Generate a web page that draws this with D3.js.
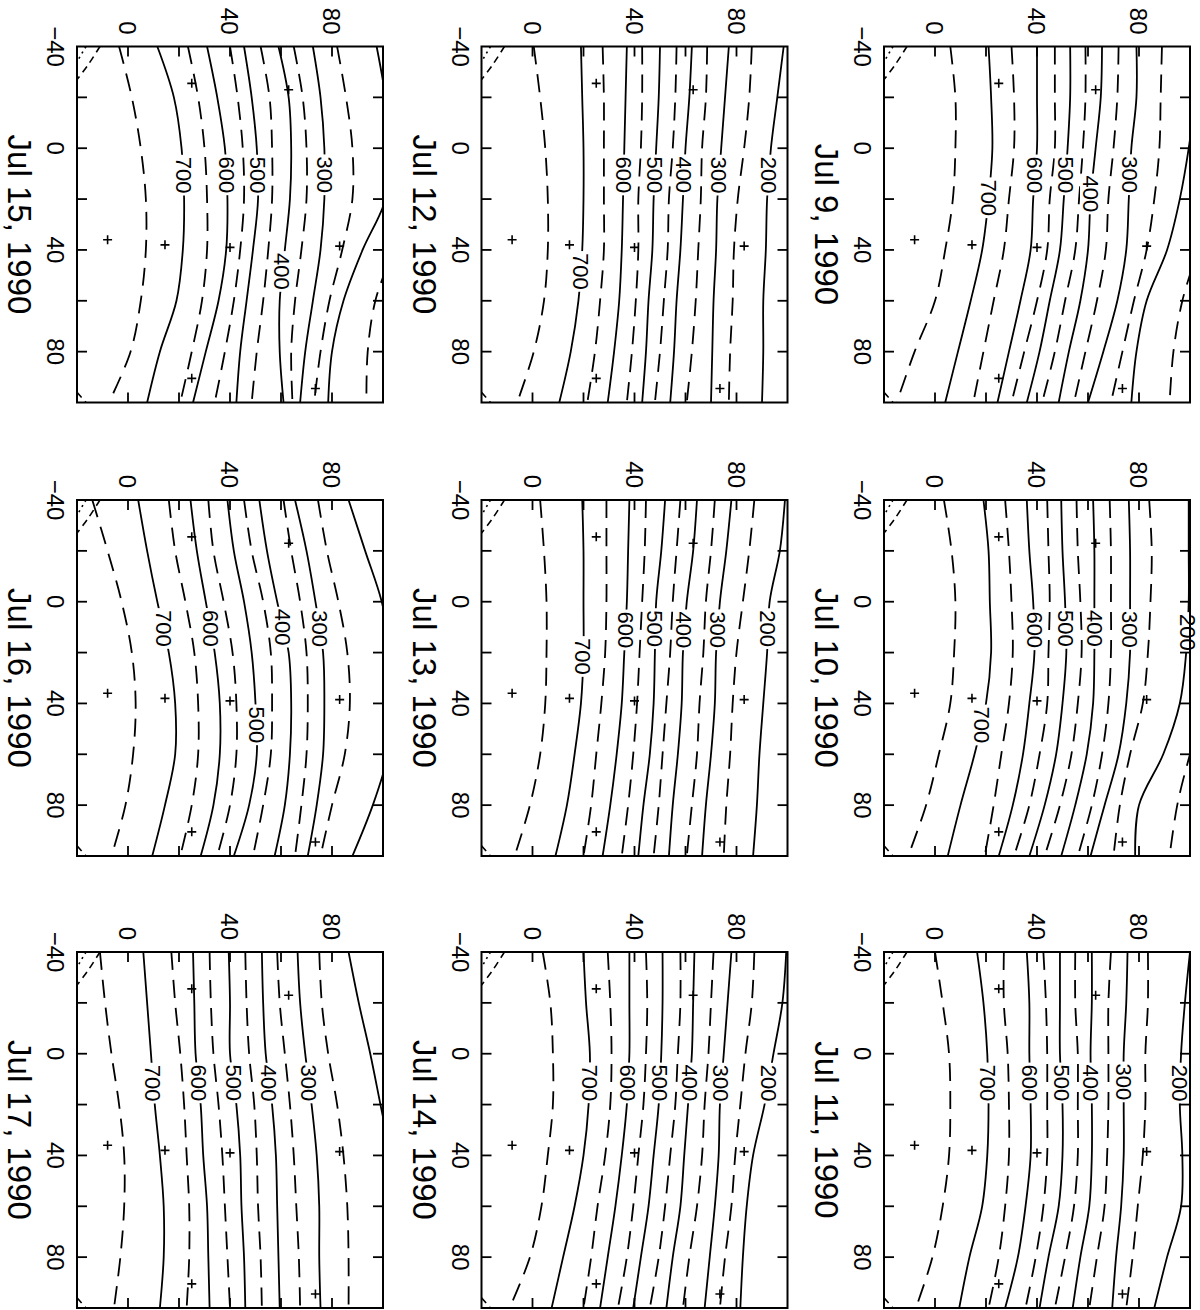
<!DOCTYPE html>
<html><head><meta charset="utf-8">
<script src="https://cdn.jsdelivr.net/npm/d3@7"></script>
<style>
body{margin:0;background:#fff}
svg{display:block;background:#fff}
text{font-family:"Liberation Sans",Arial,Helvetica,sans-serif;fill:#000}
</style>
</head><body>
<svg id="chart" width="1200" height="1310"></svg>
<script>
// ---------- data ----------
const xGrid = [-40, -20, 0, 20, 40, 60, 80, 100];
const levels = [750, 700, 650, 600, 550, 500, 450, 400, 350, 300, 250, 200, 150];
const xTickLabels = [-40, 0, 40, 80];
const yTickLabels = [0, 40, 80];
const xTicks = [-20, 0, 20, 40, 60, 80];
const yTicks = [0, 20, 40, 60, 80];
const dates = ["Jul 9, 1990","Jul 10, 1990","Jul 11, 1990","Jul 12, 1990","Jul 13, 1990",
               "Jul 14, 1990","Jul 15, 1990","Jul 16, 1990","Jul 17, 1990"];
const stationX = [-25.5, -23, 36, 38, 39, 38.5, 90.5, 94.5];
const stationY = [25, 63, -8, 14.5, 40, 83, 25, 73.5];
const cornerDash = [[-40,-11],[-33,-15.5],[-27,-20]];
const cornerDot = [[-40,-16.5],[-34,-20]];
const cornerLow = [[96,-20],[100,-16.5]];

const jul09 = [
  [6, 8, 8, 7, 4, 0, -8, -15],
  [21, 22, 22.5, 21, 18.5, 14, 9, 4],
  [30, 31, 31, 29, 27, 23, 19, 15],
  [40, 40, 40, 38.5, 37.5, 33.5, 29, 24.5],
  [47, 47, 47, 45, 44, 40, 35, 30],
  [53, 53, 52, 50.5, 49, 45, 41, 36],
  [59, 59, 58, 56.5, 55, 51, 47, 42],
  [65.5, 65, 63, 61, 60, 57, 52.5, 48.5],
  [72, 71.5, 70, 68, 67, 63.5, 59, 54.5],
  [79, 79, 77, 76, 75, 71.5, 66, 60],
  [89, 88.5, 88, 86, 83, 78, 73.5, 69],
  [104, 102, 99.5, 96, 91, 83, 79, 77],
  [114, 112, 110, 108, 103, 97, 93.5, 92]
];
const jul10 = [
  [3.5, 6.5, 8, 7.5, 6, 1.5, -3.5, -10.5],
  [19, 21, 21.5, 22, 20, 15.5, 10, 5],
  [27.5, 29, 30, 30.5, 29, 26, 23, 19.5],
  [36, 37, 38.5, 39, 37, 34.5, 30.5, 25],
  [44, 44.5, 45, 44.5, 44, 41, 37, 31],
  [49.5, 50, 51, 51.5, 50, 47.5, 43, 37],
  [55.5, 56, 57, 57.5, 56, 53.5, 49, 43],
  [62, 62.5, 62.5, 62.5, 62, 59.5, 55, 49.5],
  [68.5, 69, 69, 69, 68, 65.5, 61.5, 56],
  [76, 76.5, 76.5, 76.5, 75, 72, 66.5, 61],
  [84, 85, 84.5, 83.5, 81.5, 76.5, 72.5, 70],
  [99.5, 99.5, 99.5, 98.5, 96, 89.5, 80, 78.5],
  [115, 113, 112, 110, 106, 100, 95, 92]
];
const jul11 = [
  [0, 3, 5.5, 6, 5.5, 3, -1, -7.5],
  [16.5, 19, 20.5, 21, 20.5, 18.5, 13.5, 9.5],
  [27, 27, 28.5, 29, 29, 27.5, 25, 21],
  [36, 37, 37, 37.5, 37.5, 35.5, 32.5, 27.5],
  [42.5, 43.5, 44, 44, 44, 42.5, 39.5, 35.5],
  [49, 49, 49, 50, 50, 48.5, 44.5, 41],
  [55, 55, 56, 56, 56, 54.5, 51, 47],
  [61.5, 61.5, 61, 61.5, 61.5, 60.5, 57, 54],
  [69, 68, 68, 68, 67.5, 66.5, 63.5, 60.5],
  [75.5, 75, 74, 74, 74, 73, 71, 69.5],
  [83.5, 83.5, 82.5, 82.5, 81.5, 79.5, 77.5, 75],
  [100, 98, 96.5, 96, 97, 96.5, 91, 86],
  null
];
const jul12 = [
  [0.5, 3, 5, 6, 6, 4.5, 0.5, -6],
  [19, 19.5, 20, 20, 19.5, 18, 15, 10.5],
  [27.5, 28, 28, 28, 28, 26.5, 24.5, 21.5],
  [37, 36.5, 36, 35.5, 35, 34, 32, 29.5],
  [43, 43, 42.5, 41.5, 41.5, 40.5, 39, 37],
  [50, 49.5, 48.5, 47.5, 47, 45.5, 44.5, 43],
  [56.5, 56, 55, 53.5, 53, 51.5, 50, 48],
  [62.5, 61.5, 60, 59, 58, 56.5, 55.5, 54],
  [68.5, 68, 66.5, 66, 65, 64, 62.5, 60.5],
  [77, 75.5, 74, 72.5, 72, 71, 70.5, 70],
  [86, 85, 83, 80.5, 79, 78.5, 77.5, 77],
  [98.5, 96, 93.5, 92, 91.5, 90.5, 90.5, 90],
  null
];
const jul13 = [
  [3, 4.5, 5.5, 5.5, 5, 3, -1, -7],
  [19.5, 20, 20, 20, 19, 16.5, 13.5, 9],
  [29, 29, 29, 28.5, 27, 25, 23, 20],
  [38, 37.5, 37, 36, 35, 33, 30.5, 27.5],
  [44.5, 44, 43, 42, 41, 39.5, 37.5, 35],
  [52, 50.5, 48.5, 48, 47.5, 46, 43.5, 41.5],
  [58, 56.5, 55, 54, 52.5, 51, 49.5, 47.5],
  [64.5, 63, 60.5, 59, 58.5, 57, 55, 53.5],
  [71.5, 70, 68, 67, 65.5, 64.5, 62.5, 60.5],
  [78, 76, 73.5, 72, 71.5, 70, 68, 66.5],
  [87, 85, 82.5, 80, 78.5, 77.5, 76, 75],
  [99, 97, 93, 92, 90.5, 89, 88, 86.5],
  null
];
const jul14 = [
  [4, 7, 8, 8, 6, 3.5, -1, -9],
  [20, 21, 22.5, 22, 20, 16.5, 12, 7.5],
  [29.5, 30.5, 31, 30.5, 28.5, 25.5, 23, 20],
  [38, 38, 38, 37, 35, 32.5, 29.5, 26.5],
  [44.5, 45, 44.5, 43.5, 41.5, 39.5, 37, 33.5],
  [51, 51, 50.5, 49.5, 47.5, 45.5, 42.5, 39.5],
  [58, 58, 57, 56, 54, 52, 49.5, 46],
  [63.5, 63, 62.5, 61, 59.5, 58, 55, 52.5],
  [71, 70, 69, 67.5, 66.5, 64.5, 61.5, 59],
  [78, 76.5, 75, 73.5, 73, 71.5, 69.5, 67.5],
  [87, 86, 83.5, 81.5, 79.5, 78, 75.5, 73.5],
  [99.5, 98, 94.5, 91, 86.5, 84, 82.5, 81.5],
  null
];
const jul15 = [
  [-3.5, 1.5, 5, 7, 7, 5, 1, -7.5],
  [11.5, 18, 21, 22, 21.5, 19, 12.5, 7.5],
  [23.5, 27.5, 30, 31, 31, 29, 25, 20.5],
  [31, 35, 38, 39, 38.5, 35.5, 30.5, 25.5],
  [40, 43, 45, 45.5, 44, 41.5, 38, 34],
  [45.5, 48.5, 50.5, 51, 49, 46.5, 44, 42.5],
  [52, 55.5, 56.5, 56.5, 55, 53, 50.5, 48.5],
  [59, 63, 64, 63.5, 61.5, 59.5, 59.5, 61],
  [65, 68.5, 70, 70, 68, 65.5, 64, 64.5],
  [72.5, 75.5, 77, 77, 75.5, 72.5, 69.5, 67.5],
  [82, 85.5, 88, 88, 84, 79, 75.5, 73],
  [97.5, 101, 103, 101, 92, 84.5, 80, 78.5],
  [116, 115, 114, 110, 104, 97, 94, 93.5]
];
const jul16 = [
  [-14, -8, -2.5, 1.5, 3, 2, -1, -6.5],
  [4, 7.5, 11.5, 16, 18.5, 18.5, 14.5, 9.5],
  [16, 18.5, 22.5, 26, 27.5, 27.5, 25, 20.5],
  [24.5, 27, 30.5, 34, 36, 36, 33.5, 28.5],
  [31.5, 33.5, 37.5, 41, 42.5, 42.5, 40, 35],
  [39, 41.5, 45.5, 48.5, 50, 50.5, 47.5, 41.5],
  [45.5, 48.5, 53, 56, 56.5, 56, 53, 49],
  [51.5, 54.5, 58.5, 63, 64, 63.5, 61.5, 57.5],
  [61, 64, 67.5, 70, 70.5, 70, 68, 65.5],
  [65.5, 70, 73.5, 76.5, 77, 76.5, 74, 70.5],
  [74.5, 78, 82.5, 86, 87, 85, 80, 75.5],
  [86.5, 93, 99.5, 103, 104, 102, 96, 88],
  null
];
const jul17 = [
  [-11, -9, -6.5, -3.5, -1.5, -1.5, -3, -5.5],
  [6, 7.5, 9, 10.5, 12.5, 14, 14, 12.5],
  [17, 18.5, 20.5, 22, 23, 24, 24, 23],
  [25.5, 26, 26.5, 28.5, 29.5, 31, 31.5, 32],
  [32, 32.5, 33.5, 35.5, 37, 38, 39, 40],
  [39.5, 40, 40, 42.5, 44, 44.5, 45.5, 46],
  [46, 46.5, 47.5, 49.5, 50.5, 51, 52, 52.5],
  [52.5, 53, 54, 56.5, 58, 58.5, 59, 59.5],
  [58.5, 59.5, 61.5, 63.5, 65, 66, 67, 67.5],
  [66.5, 67.5, 69.5, 72, 74, 75, 75, 75.5],
  [75, 76, 78.5, 82, 84.5, 86, 86.5, 86.5],
  [86.5, 90.5, 95, 99, 103, 106, 108, 108],
  null
];

const labels09 = [[700,19.5],[600,10.5],[500,10.5],[400,18],[300,10.5]];
const labels10 = [[700,48.5],[600,11],[500,10.5],[400,10.5],[300,11],[200,12]];
const labels11 = [[700,11.5],[600,11.5],[500,11.5],[400,11.5],[300,11],[200,11.5]];
const labels12 = [[700,48.5],[600,10.5],[500,10.5],[400,10.5],[300,10.5],[200,10.5]];
const labels13 = [[700,21.5],[600,11],[500,10.5],[400,11],[300,11],[200,10.5]];
const labels14 = [[700,11.5],[600,11.5],[500,11.5],[400,11.5],[300,11.5],[200,11.5]];
const labels15 = [[700,10.5],[600,10.5],[500,10.5],[400,48.5],[300,10.5]];
const labels16 = [[700,10.5],[600,10.5],[500,48.5],[400,10],[300,10.5]];
const labels17 = [[700,11.5],[600,11.5],[500,11.5],[400,11.5],[300,11.5]];

const panelLines = [jul09, jul10, jul11, jul12, jul13, jul14, jul15, jul16, jul17];
const panelLabels = [labels09, labels10, labels11, labels12, labels13, labels14, labels15, labels16, labels17];

// ---------- layout ----------
const slot = [[2,0],[2,1],[2,2],[1,0],[1,1],[1,2],[0,0],[0,1],[0,2]]; // [col,row]
const colL = [77, 481.5, 884], rowT = [46.5, 500, 952];
const W = 306, H = 356;

const svg = d3.select("#chart");
const defs = svg.append("defs");

dates.forEach((date, i) => {
  const [c, r] = slot[i];
  const L = colL[c], T = rowT[r];
  const sx = d3.scaleLinear().domain([-20, 100]).range([L, L + W]);
  const sy = d3.scaleLinear().domain([-40, 100]).range([T, T + H]);
  const g = svg.append("g");

  defs.append("clipPath").attr("id", "clip" + i)
    .append("rect").attr("x", L).attr("y", T).attr("width", W).attr("height", H);
  const plot = g.append("g").attr("clip-path", `url(#clip${i})`);

  const line = d3.line().x(d => sx(d[1])).y(d => sy(d[0])).curve(d3.curveCatmullRom);
  const paths = {};
  panelLines[i].forEach((vals, k) => {
    if (!vals) return;
    const lev = levels[k];
    const solid = lev % 100 === 0;
    const pts = xGrid.map((x, j) => [x, vals[j]]);
    const p = plot.append("path").attr("d", line(pts))
      .attr("fill", "none").attr("stroke", "#000").attr("stroke-width", 1.8)
      .attr("stroke-dasharray", solid ? null : "18,10");
    paths[lev] = p;
  });
  const cline = d3.line().x(d => sx(d[1])).y(d => sy(d[0])).curve(d3.curveCatmullRom);
  plot.append("path").attr("d", cline(cornerDash)).attr("fill","none").attr("stroke","#000")
    .attr("stroke-width",1.6).attr("stroke-dasharray","7,5");
  plot.append("path").attr("d", cline(cornerDot)).attr("fill","none").attr("stroke","#000")
    .attr("stroke-width",1.6).attr("stroke-dasharray","2,4");
  plot.append("path").attr("d", cline(cornerLow)).attr("fill","none").attr("stroke","#000")
    .attr("stroke-width",1.6).attr("stroke-dasharray","7,5");

  // station markers
  stationX.forEach((x, j) => {
    plot.append("path")
      .attr("transform", `translate(${sx(stationY[j])},${sy(x)})`)
      .attr("d", "M-4.5,0H4.5M0,-4.5V4.5")
      .attr("stroke", "#000").attr("stroke-width", 1.6);
  });

  // contour labels
  panelLabels[i].forEach(([lev, xl]) => {
    const p = paths[lev];
    if (!p) return;
    const node = p.node();
    const len = node.getTotalLength();
    const ty = sy(xl);
    let best = null, bd = Infinity;
    for (let s = 0; s <= len; s += 0.5) {
      const pt = node.getPointAtLength(s);
      const d = Math.abs(pt.y - ty);
      if (d < bd) { bd = d; best = pt; }
    }
    const lg = g.append("g").attr("transform", `translate(${best.x},${best.y}) rotate(90)`);
    const t = lg.append("text").attr("text-anchor", "middle").attr("dy", "0.36em")
      .attr("font-size", 22).text(lev);
    const bb = t.node().getBBox();
    lg.insert("rect", "text").attr("x", bb.x - 2).attr("y", bb.y + 2)
      .attr("width", bb.width + 4).attr("height", bb.height - 4).attr("fill", "#fff");
  });

  // ticks
  const tk = 10;
  xTicks.forEach(x => {
    g.append("line").attr("x1", L).attr("x2", L + tk).attr("y1", sy(x)).attr("y2", sy(x))
      .attr("stroke", "#000").attr("stroke-width", 1.8);
    g.append("line").attr("x1", L + W - tk).attr("x2", L + W).attr("y1", sy(x)).attr("y2", sy(x))
      .attr("stroke", "#000").attr("stroke-width", 1.8);
  });
  yTicks.forEach(v => {
    g.append("line").attr("x1", sx(v)).attr("x2", sx(v)).attr("y1", T).attr("y2", T + tk)
      .attr("stroke", "#000").attr("stroke-width", 1.8);
    g.append("line").attr("x1", sx(v)).attr("x2", sx(v)).attr("y1", T + H - tk).attr("y2", T + H)
      .attr("stroke", "#000").attr("stroke-width", 1.8);
  });

  // frame
  g.append("rect").attr("x", L).attr("y", T).attr("width", W).attr("height", H)
    .attr("fill", "none").attr("stroke", "#000").attr("stroke-width", 2);

  // tick labels (rotated)
  xTickLabels.forEach(x => {
    g.append("text").attr("transform", `translate(${L - 30},${sy(x)}) rotate(90)`)
      .attr("text-anchor", "middle").attr("font-size", 24)
      .text(x < 0 ? "\u2212" + Math.abs(x) : x);
  });
  yTickLabels.forEach(v => {
    g.append("text").attr("transform", `translate(${sx(v)},${T - 12}) rotate(90)`)
      .attr("text-anchor", "end").attr("dy", "0.36em").attr("font-size", 24)
      .text(v);
  });

  // title
  g.append("text").attr("transform", `translate(${L - 69},${T + H / 2}) rotate(90)`)
    .attr("text-anchor", "middle").attr("font-size", 33).text(date);
});
</script>
</body></html>
